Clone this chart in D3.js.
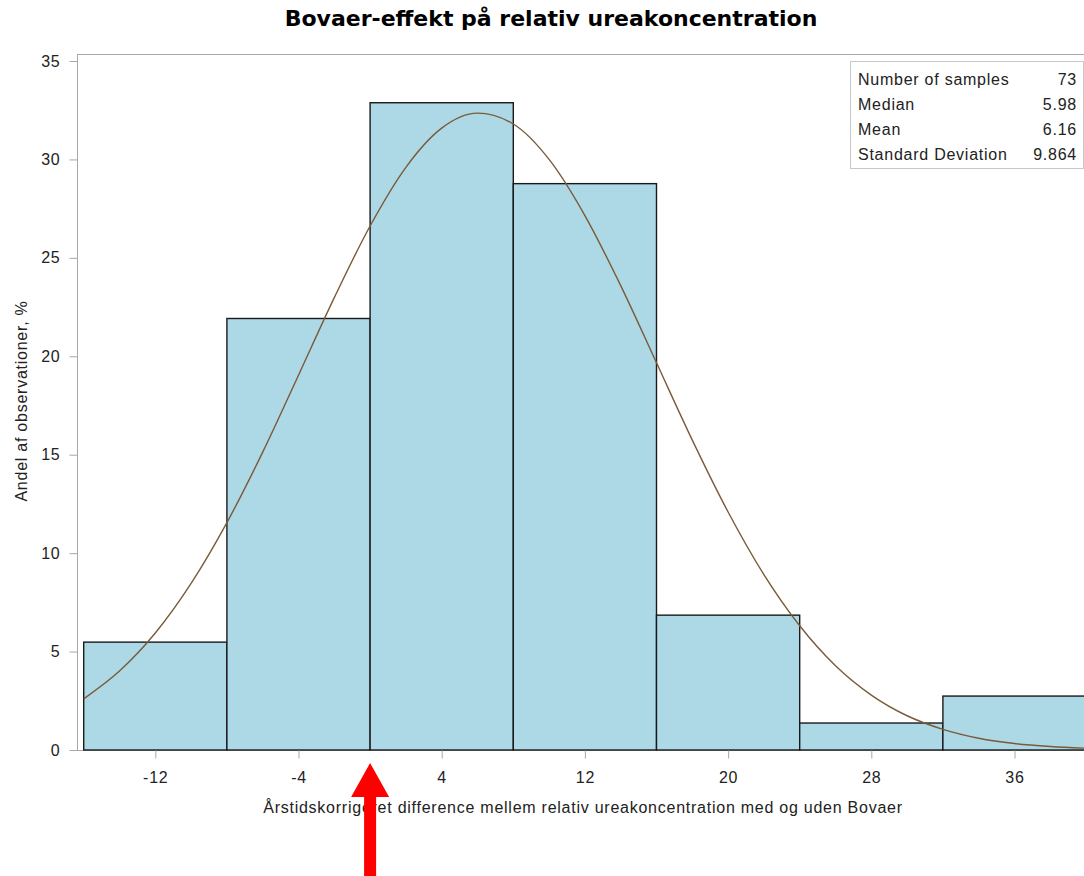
<!DOCTYPE html>
<html>
<head>
<meta charset="utf-8">
<script src="https://cdn.jsdelivr.net/npm/d3@7"></script>
<style>
  body { margin: 0; background: #fff; }
  svg { display: block; font-family: "Liberation Sans", Arial, sans-serif; }
  .txt { font-size: 16px; letter-spacing: 0.75px; fill: #222; }
</style>
</head>
<body>
<svg id="chart" width="1084" height="876"></svg>
<script>
'use strict';

// histogram bins (lower edge) and share of observations in %
var binStarts  = [-16, -8, 0, 8, 16, 24, 32];
var binWidth   = 8;
var binPercent = [5.48, 21.92, 32.88, 28.77, 6.85, 1.37, 2.74];

// fitted normal curve
var curveX = [-16, -14, -12, -10, -8, -6, -4, -2, 0, 2, 4, 6, 8, 10, 12, 14, 16, 18, 20,
              22, 24, 26, 28, 30, 32, 34, 36, 38, 40];
var curveY = [2.60, 4.01, 5.94, 8.46, 11.55, 15.13, 19.04, 22.98, 26.62, 29.60, 31.59, 32.35,
              31.80, 30.00, 27.15, 23.59, 19.67, 15.74, 12.09, 8.91, 6.31, 4.28, 2.79, 1.74,
              1.05, 0.60, 0.33, 0.18, 0.09];

var xTicks = [-12, -4, 4, 12, 20, 28, 36];
var yTicks = [0, 5, 10, 15, 20, 25, 30, 35];

var statLabels = ["Number of samples", "Median", "Mean", "Standard Deviation"];
var statValues = ["73", "5.98", "6.16", "9.864"];

var svg = d3.select("#chart");

var plot = {left: 77, top: 54, right: 1092, bottom: 750};

var x = d3.scaleLinear().domain([-16, 40]).range([83.7, 1086.1]);
var y = d3.scaleLinear().domain([0, 35]).range([750, 61]);

// title
svg.append("text")
    .attr("x", 551).attr("y", 26)
    .attr("text-anchor", "middle")
    .style("font-size", "22px").style("font-weight", "bold")
    .style("font-family", "'DejaVu Sans', Verdana, sans-serif")
    .attr("fill", "#000")
    .text("Bovaer-effekt på relativ ureakoncentration");

// frame
svg.append("rect")
    .attr("x", plot.left + 0.5).attr("y", plot.top + 0.5)
    .attr("width", plot.right - plot.left).attr("height", plot.bottom - plot.top)
    .attr("fill", "none").attr("stroke", "#a8a8a8").attr("stroke-width", 1);

// bars
svg.append("g").selectAll("rect")
    .data(binStarts)
    .enter().append("rect")
        .attr("x", function(d){return x(d);})
        .attr("y", function(d, i){return y(binPercent[i]);})
        .attr("width", function(d){return x(d + binWidth) - x(d);})
        .attr("height", function(d, i){return y(0) - y(binPercent[i]);})
        .attr("fill", "#add8e6")
        .attr("stroke", "#1a1a1a")
        .attr("stroke-width", 1.4);

// normal curve
var line = d3.line()
    .x(function(d){return x(d[0]);})
    .y(function(d){return y(d[1]);})
    .curve(d3.curveMonotoneX);

svg.append("path")
    .datum(d3.zip(curveX, curveY))
    .attr("d", line)
    .attr("fill", "none")
    .attr("stroke", "#7a5a38")
    .attr("stroke-width", 1.4);

// axes (plain hyphen for negatives, like the original)
var xAxis = svg.append("g")
    .attr("transform", "translate(0," + (plot.bottom + 0.5) + ")")
    .call(d3.axisBottom(x).tickValues(xTicks).tickFormat(String)
        .tickSize(8).tickPadding(13).tickSizeOuter(0));
var yAxis = svg.append("g")
    .attr("transform", "translate(" + (plot.left + 0.5) + ",0)")
    .call(d3.axisLeft(y).tickValues(yTicks).tickFormat(String)
        .tickSize(8).tickPadding(9).tickSizeOuter(0));

[xAxis, yAxis].forEach(function(a){
    a.select(".domain").remove();
    a.selectAll("line").attr("stroke", "#a8a8a8");
    a.selectAll("text").attr("class", "txt")
        .attr("font-size", null).attr("font-family", null).attr("fill", null);
});

// axis labels
svg.append("text")
    .attr("class", "txt")
    .attr("x", 583).attr("y", 813)
    .attr("text-anchor", "middle")
    .text("Årstidskorrigeret difference mellem relativ ureakoncentration med og uden Bovaer");

svg.append("text")
    .attr("class", "txt")
    .attr("transform", "translate(27,401) rotate(-90)")
    .attr("text-anchor", "middle")
    .text("Andel af observationer, %");

// stats inset
var inset = svg.append("g");
inset.append("rect")
    .attr("x", 850.5).attr("y", 61.5)
    .attr("width", 233).attr("height", 107)
    .attr("fill", "#fff").attr("stroke", "#c8c8c8");
inset.selectAll("text.lab")
    .data(statLabels)
    .enter().append("text")
        .attr("class", "txt lab")
        .attr("x", 858)
        .attr("y", function(d, i){return 85 + i * 25;})
        .text(function(d){return d;});
inset.selectAll("text.val")
    .data(statValues)
    .enter().append("text")
        .attr("class", "txt val")
        .attr("x", 1077)
        .attr("text-anchor", "end")
        .attr("y", function(d, i){return 85 + i * 25;})
        .text(function(d){return d;});

// red arrow pointing at zero
var ax = x(0);
svg.append("path")
    .attr("d", "M" + ax + ",763 L" + (ax + 19) + ",797 L" + (ax + 6) + ",797 L" + (ax + 6) + ",876" +
               " L" + (ax - 6) + ",876 L" + (ax - 6) + ",797 L" + (ax - 19) + ",797 Z")
    .attr("fill", "#ff0000");
</script>
</body>
</html>
